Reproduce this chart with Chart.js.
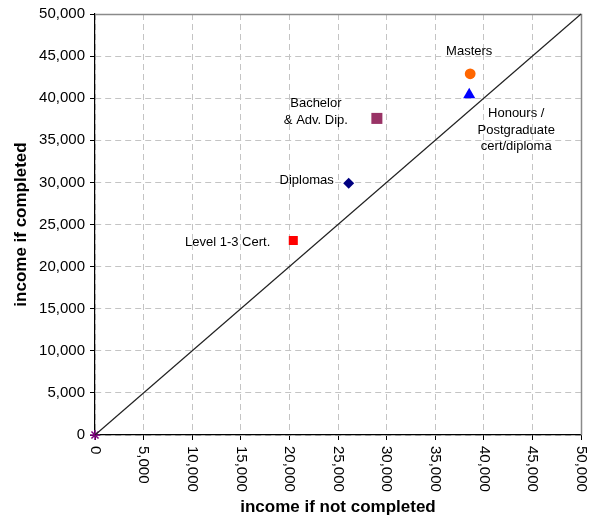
<!DOCTYPE html>
<html><head><meta charset="utf-8">
<script src="https://cdn.jsdelivr.net/npm/chart.js@4/dist/chart.umd.min.js"></script>
<style>html,body{margin:0;padding:0;background:#fff;}</style>
</head><body>
<canvas id="c" width="597" height="522"></canvas>
<script>
// ---- data ----
const categories = ['Level 1-3 Cert.', 'Diplomas', 'Bachelor & Adv. Dip.', 'Masters', 'Honours / Postgraduate cert/diploma'];
const labelLines = [['Level 1-3 Cert.'], ['Diplomas'], ['Bachelor', '& Adv. Dip.'], ['Masters'], ['Honours /', 'Postgraduate', 'cert/diploma']];
const incomeNotCompleted = [20400, 26100, 29000, 38600, 38500];
const incomeCompleted = [23100, 29900, 37600, 42900, 40400];
const equalityX = [0, 50000];
const equalityY = [0, 50000];
const originX = [0];
const originY = [0];
const xTickLabels = ['0','5,000','10,000','15,000','20,000','25,000','30,000','35,000','40,000','45,000','50,000'];
const xTickValues = [0,5000,10000,15000,20000,25000,30000,35000,40000,45000,50000];

// ---- styles ----
const markerStyles = [
  {style:'rect', r:6.4, color:'#FF0000'},
  {style:'rectRot', r:5.5, color:'#000080'},
  {style:'rect', r:7.8, color:'#993366'},
  {style:'circle', r:5.4, color:'#FF6600'},
  {style:'triangle', r:7, color:'#0000FF'}
];
// label placement relative to the marker (pixels): dx, dy of first line, align
const labelPlace = [
  {dx:-23, dy:1.5, align:'right'},
  {dx:-15, dy:-3, align:'right'},
  {dx:-61, dy:-14.5, align:'center'},
  {dx:-1, dy:-22, align:'center'},
  {dx:47, dy:19, align:'center'}
];
const FONT = '"Liberation Sans", Arial, sans-serif';

const datasets = categories.map((name, i) => ({
  label: name,
  data: [{x: incomeNotCompleted[i], y: incomeCompleted[i]}],
  pointStyle: markerStyles[i].style,
  pointRadius: markerStyles[i].r,
  backgroundColor: markerStyles[i].color,
  borderColor: markerStyles[i].color,
  borderWidth: 0,
  clip: false
}));
datasets.unshift({
  label: 'equal',
  data: equalityX.map((x, i) => ({x: x, y: equalityY[i]})),
  showLine: true,
  borderColor: '#222',
  borderWidth: 1.2,
  pointRadius: 0,
  clip: false
});
datasets.push({
  label: 'origin',
  data: originX.map((x, i) => ({x: x, y: originY[i]})),
  pointStyle: 'star',
  pointRadius: 5,
  borderColor: '#800080',
  backgroundColor: '#800080',
  borderWidth: 1.5,
  clip: false
});

const decor = {
  id: 'decor',
  beforeDatasetsDraw(chart) {
    const {ctx, chartArea: a} = chart;
    ctx.save();
    ctx.strokeStyle = '#8a8a8a';
    ctx.lineWidth = 1.5;
    ctx.beginPath();
    ctx.moveTo(a.left, a.top + 0.5);
    ctx.lineTo(a.right + 0.5, a.top + 0.5);
    ctx.lineTo(a.right + 0.5, a.bottom);
    ctx.stroke();
    ctx.restore();
  },
  afterDraw(chart) {
    const {ctx, chartArea: a} = chart;
    const xs = chart.scales.x, ys = chart.scales.y;
    ctx.save();
    // x tick labels rotated clockwise
    ctx.fillStyle = '#000';
    ctx.font = '15px ' + FONT;
    ctx.textAlign = 'left';
    ctx.textBaseline = 'middle';
    xTickValues.forEach((v, i) => {
      const px = xs.getPixelForValue(v);
      ctx.save();
      ctx.translate(px, a.bottom + 11);
      ctx.rotate(Math.PI / 2);
      ctx.fillText(xTickLabels[i], 0, 0);
      ctx.restore();
    });
    // point labels
    ctx.font = '13px ' + FONT;
    ctx.textBaseline = 'middle';
    categories.forEach((name, i) => {
      const px = xs.getPixelForValue(incomeNotCompleted[i]);
      const py = ys.getPixelForValue(incomeCompleted[i]);
      const p = labelPlace[i];
      ctx.textAlign = p.align;
      labelLines[i].forEach((line, j) => {
        ctx.fillText(line, px + p.dx, py + p.dy + j * 16.5);
      });
    });
    ctx.restore();
  }
};

new Chart(document.getElementById('c'), {
  type: 'scatter',
  data: {datasets},
  plugins: [decor],
  options: {
    responsive: false,
    animation: false,
    layout: {padding: {left: 0, right: 16, top: 14, bottom: 0}},
    plugins: {legend: {display: false}, tooltip: {enabled: false}},
    scales: {
      x: {
        type: 'linear', min: 0, max: 50000,
        ticks: {stepSize: 5000, display: false},
        grid: {color: '#c4c4c4', tickColor: '#000', tickLength: 5, tickBorderDash: []},
        border: {color: '#000', width: 1.2, dash: [6, 4]},
        title: {display: true, text: 'income if not completed', color: '#000',
          font: {family: FONT, size: 17, weight: 'bold'}, padding: {top: 0, bottom: 4}},
        afterFit(s) { s.height = 87; }
      },
      y: {
        type: 'linear', min: 0, max: 50000,
        ticks: {stepSize: 5000, color: '#000', padding: 5, font: {family: FONT, size: 15},
          callback: v => v.toLocaleString('en-US')},
        grid: {color: '#c4c4c4', tickColor: '#000', tickLength: 5, tickBorderDash: []},
        border: {color: '#000', width: 1.2, dash: [6, 4]},
        title: {display: true, text: 'income if completed', color: '#000',
          font: {family: FONT, size: 17, weight: 'bold'}, padding: {top: 11, bottom: 0}},
        afterFit(s) { s.width = 95; }
      }
    }
  }
});
</script>
</body></html>
